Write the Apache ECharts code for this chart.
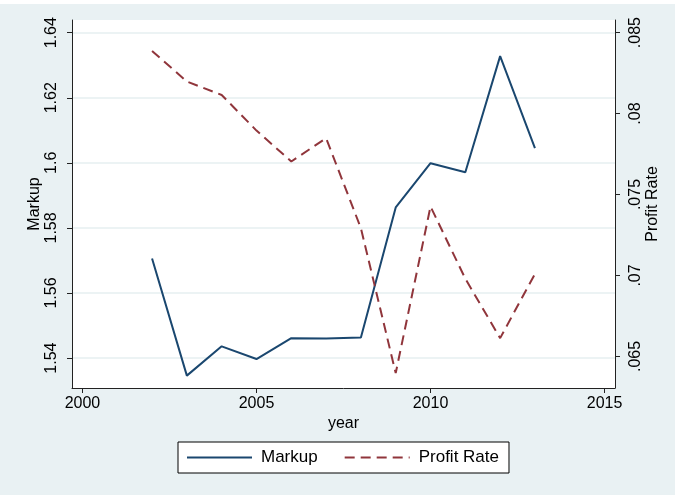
<!DOCTYPE html>
<html>
<head>
<meta charset="utf-8">
<script src="https://cdn.jsdelivr.net/npm/echarts@6/dist/echarts.min.js"></script>
<style>
  html, body { margin: 0; padding: 0; background: #fff; }
  #chart { width: 675px; height: 495px; background: #e9f1f3; }
</style>
</head>
<body>
<div id="chart"></div>
<script>
const years = [2002, 2003, 2004, 2005, 2006, 2007, 2008, 2009, 2010, 2011, 2012, 2013];
const markup = [1.5706, 1.5346, 1.5436, 1.5397, 1.5461, 1.5460, 1.5463, 1.5863, 1.5999, 1.5971, 1.6328, 1.6045];
const profitRate = [0.08387, 0.08198, 0.08115, 0.07895, 0.07704, 0.07848, 0.07292, 0.06397, 0.07426, 0.0698, 0.06613, 0.0701];
const xTicks = [2000, 2005, 2010, 2015];
const markupTicks = [1.54, 1.56, 1.58, 1.6, 1.62, 1.64];
const profitTicks = [0.065, 0.07, 0.075, 0.08, 0.085];

const font = 'Liberation Sans, Arial, sans-serif';
const axisColor = '#222';

const chart = echarts.init(document.getElementById('chart'));

chart.setOption({
  animation: false,
  textStyle: { fontFamily: font },
  graphic: [
    { type: 'rect', left: 0, top: 0, shape: { width: 675, height: 4 }, style: { fill: '#fff' }, silent: true }
  ],
  grid: {
    left: 72, right: 60, top: 20, bottom: 107,
    containLabel: false,
    show: true, backgroundColor: '#fff', borderWidth: 0
  },
  legend: {
    left: 178, top: 442,
    orient: 'horizontal',
    backgroundColor: '#fff',
    borderColor: '#000', borderWidth: 1, borderRadius: 0,
    padding: [7, 10, 7, 8],
    itemWidth: 65, itemHeight: 14, itemGap: 26,
    itemStyle: { opacity: 0 },
    textStyle: { fontSize: 17, color: '#000', fontFamily: font, padding: [0, 0, 0, 4] },
    data: ['Markup', 'Profit Rate']
  },
  xAxis: {
    type: 'value',
    min: 1999.7, max: 2015.3,
    name: 'year', nameLocation: 'middle', nameGap: 28, nameMoveOverlap: false,
    nameTextStyle: { fontSize: 16, color: '#000' },
    axisLine: { show: true, lineStyle: { color: axisColor, width: 1 } },
    axisTick: { show: true, length: 5, customValues: xTicks, lineStyle: { color: axisColor } },
    axisLabel: { customValues: xTicks, fontSize: 16, color: '#000', margin: 8, formatter: v => String(v) },
    splitLine: { show: false }
  },
  yAxis: [
    {
      type: 'value', position: 'left',
      min: 1.5308, max: 1.6439,
      name: 'Markup', nameLocation: 'middle', nameRotate: 90, nameGap: 29, nameMoveOverlap: false,
      nameTextStyle: { fontSize: 16, color: '#000' },
      axisLine: { show: true, lineStyle: { color: axisColor, width: 1 } },
      axisTick: { show: true, length: 5, customValues: markupTicks, lineStyle: { color: axisColor } },
      axisLabel: { customValues: markupTicks, rotate: 90, fontSize: 16, color: '#000', margin: 12,
        formatter: v => String(+v.toFixed(2)) },
      splitLine: { show: true, lineStyle: { color: '#e6eff1', width: 1.5 } }
    },
    {
      type: 'value', position: 'right',
      min: 0.06305, max: 0.08578,
      name: 'Profit Rate', nameLocation: 'middle', nameRotate: 90, nameGap: 30, nameMoveOverlap: false,
      nameTextStyle: { fontSize: 16, color: '#000' },
      axisLine: { show: true, lineStyle: { color: axisColor, width: 1 } },
      axisTick: { show: true, length: 5, customValues: profitTicks, lineStyle: { color: axisColor } },
      axisLabel: { customValues: profitTicks, rotate: 90, fontSize: 16, color: '#000', margin: 13,
        formatter: v => String(+v.toFixed(3)).replace(/^0/, '') },
      splitLine: { show: false }
    }
  ],
  series: [
    {
      name: 'Markup', type: 'line', yAxisIndex: 0,
      symbol: 'none',
      lineStyle: { color: '#1a476f', width: 2 },
      itemStyle: { color: '#1a476f' },
      data: years.map((y, i) => [y, markup[i]])
    },
    {
      name: 'Profit Rate', type: 'line', yAxisIndex: 1,
      symbol: 'none',
      lineStyle: { color: '#90353b', width: 2, type: [10, 6] },
      itemStyle: { color: '#90353b' },
      data: years.map((y, i) => [y, profitRate[i]])
    }
  ]
});
</script>
</body>
</html>
